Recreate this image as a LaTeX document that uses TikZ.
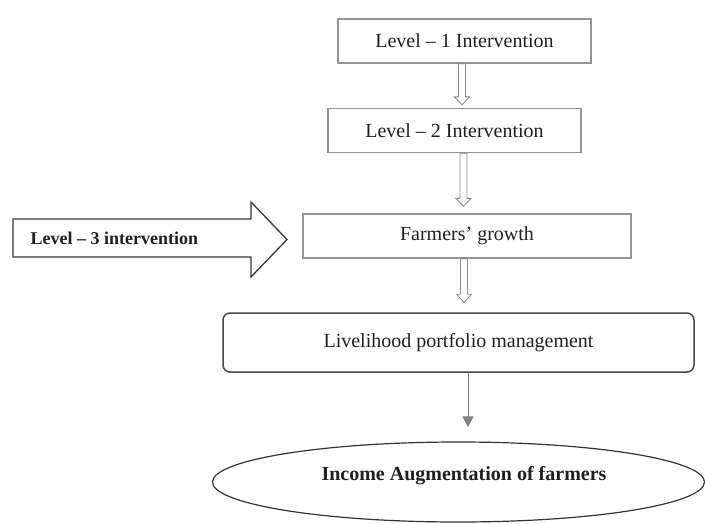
\documentclass[tikz,border=0pt]{standalone}
\usepackage{fontspec}
\setmainfont{Liberation Serif}
\usetikzlibrary{calc,arrows.meta,shapes.geometric}
\begin{document}
\begin{tikzpicture}[x=1pt,y=-1pt,
  txt/.style={font=\fontsize{20}{24}\selectfont,text=black!88},
  box/.style={txt,draw=black!42,line width=1.2pt,minimum height=44pt,inner sep=0pt},
  rbox/.style={txt,draw=black!72,line width=1.5pt,rounded corners=7pt,inner sep=0pt},
  oval/.style={ellipse,draw=black!80,line width=1.2pt,inner sep=0pt},
  bigarrow/.style={draw=black!78,line width=1.3pt,line join=miter},
  hollow/.style={draw=black!45,line width=0.9pt,fill=white,
    to path={let \p1=(\tikztostart), \p2=(\tikztotarget) in
      ({\x1-3.5pt},\y1) -- ({\x1+3.5pt},\y1) -- ({\x1+3.5pt},{\y2+8pt})
      -- ({\x1+7.5pt},{\y2+8pt}) -- (\x1,\y2) -- ({\x1-7.5pt},{\y2+8pt})
      -- ({\x1-3.5pt},{\y2+8pt}) -- cycle}},
  plain/.style={draw=black!50,line width=1pt,-{Triangle[width=11pt,length=11pt]}}]
\useasboundingbox (0,0) rectangle (705,523);

% boxes of the chain
\node[box,minimum width=253pt] (b1) at (464.5,41) {Level – 1 Intervention};
\node[box,minimum width=253pt] (b2) at (454.5,130.5) {Level – 2 Intervention};
\node[box,minimum width=328pt] (b3) at (467,236) {Farmers’ growth};
\node[rbox,minimum width=471pt,minimum height=59pt] (lpm) at (458.5,342.5)
  {Livelihood portfolio management};
\node[oval,minimum width=492pt,minimum height=80pt] (inc) at (458.5,482) {};
\node[txt,font=\fontsize{20}{24}\selectfont\bfseries] (inct) at (464,476)
  {Income Augmentation of farmers};

% side input: large block arrow with its label
\draw[bigarrow] (13,219) -- (251,219) -- (251,202) -- (287,239.5)
  -- (251,277) -- (251,257) -- (13,257) -- cycle;
\node[txt,font=\fontsize{18}{22}\selectfont\bfseries,anchor=west] (l3) at (27,238)
  {Level – 3 intervention};

% hollow block arrows between levels
\draw[hollow] ($(b1.south)+(-2.5,0)$) to ($(b2.north)+(0,-3)$);
\draw[hollow] ($(b2.south)+(9,0)$) to ($(b3.north)+(0,-7)$);
\draw[hollow] ($(b3.south)+(-3,0)$) to ($(lpm.north)+(0,-10)$);

% final arrow to the outcome
\draw[plain] ($(lpm.south)+(9.5,0)$) -- ($(inc.north)+(9.5,-14)$);
\end{tikzpicture}
\end{document}
